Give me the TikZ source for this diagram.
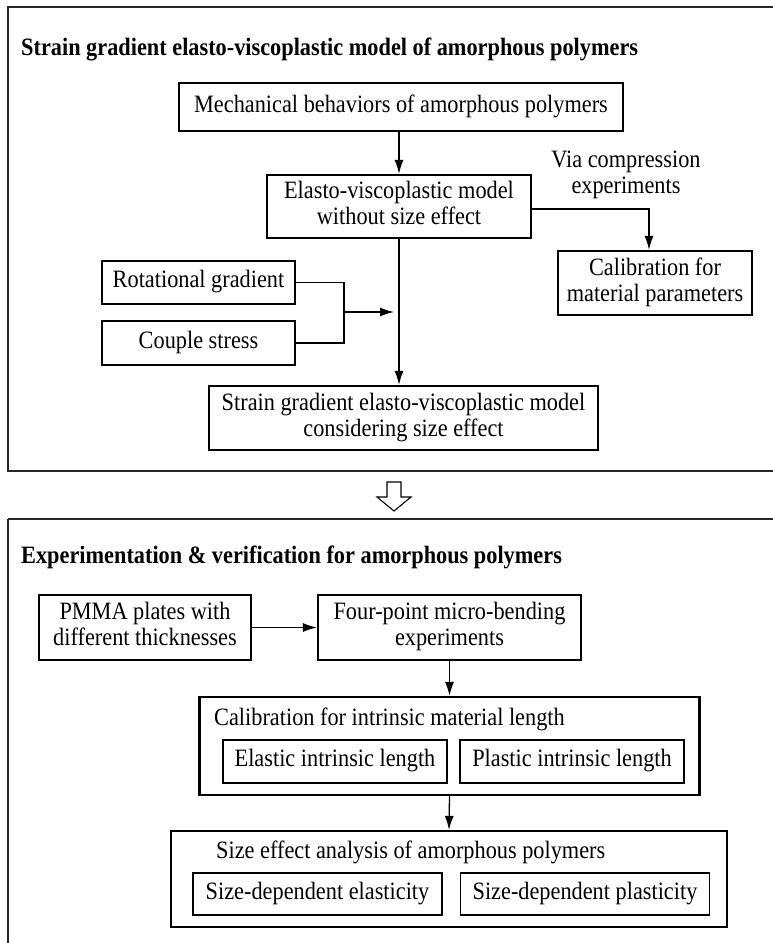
\documentclass[tikz,border=0pt]{standalone}
\usepackage{fontspec}
\usepackage{graphicx}
\setmainfont{Liberation Serif}
\usetikzlibrary{arrows.meta}
\newcommand{\vtxt}[1]{\scalebox{1}[1.12]{\begin{tabular}{@{}c@{}}#1\end{tabular}}}
\begin{document}
\begin{tikzpicture}[x=1pt,y=-1pt,
  every node/.style={font=\fontsize{22.3}{23.2}\selectfont},
  box/.style={draw=black,line width=2.2pt,align=center,inner sep=0pt},
  thinbox/.style={draw=black,line width=1.1pt,align=center,inner sep=0pt},
  frame/.style={draw=black!85,line width=1.5pt},
  ttl/.style={anchor=west,inner sep=0pt,font=\fontsize{22.3}{23.2}\selectfont\bfseries},
  sub/.style={anchor=west,inner sep=0pt},
  arr/.style={draw=black,line width=1.3pt,-{Latex[length=14pt,width=9pt]}},
  ln/.style={draw=black,line width=1.3pt}]
\useasboundingbox (0,0) rectangle (772,943);
\fill[white] (0,0) rectangle (772,943);
% frames
\draw[frame] (8,7) rectangle (790,471);
\draw[frame] (8,519) -- (790,519);
\draw[frame] (8,519) -- (8,960);
% top section
\node[ttl] (t1) at (21,50) {\vtxt{Strain gradient elasto-viscoplastic model of amorphous polymers}};
\node[box,minimum width=444pt,minimum height=48pt] (mech) at (401,107) {\vtxt{Mechanical behaviors of amorphous polymers}};
\node[box,minimum width=264pt,minimum height=63pt] (elasto) at (399,206.5) {\vtxt{Elasto-viscoplastic model\\without size effect}};
\node[inner sep=0pt] (via) at (626,175) {\vtxt{Via compression\\experiments}};
\node[box,minimum width=194pt,minimum height=64pt] (calib) at (655,283) {\vtxt{Calibration for\\material parameters}};
\node[box,minimum width=193pt,minimum height=43pt] (rot) at (198.5,282.5) {\vtxt{Rotational gradient}};
\node[box,minimum width=193pt,minimum height=44pt] (couple) at (198.5,343) {\vtxt{Couple stress}};
\node[box,minimum width=389pt,minimum height=64pt] (strain) at (403.5,418) {\vtxt{Strain gradient elasto-viscoplastic model\\considering size effect}};
\coordinate (j) at (344,312);
\coordinate (jt) at (394,312);
\coordinate (cr) at (649,209);
\draw[arr] (mech.south -| elasto.north) -- (elasto.north);
\draw[arr] (elasto.east |- cr) -- (cr) -- (cr |- calib.north);
\draw[arr] (elasto.south) -- (elasto.south |- strain.north);
\draw[ln] (rot.east) -| (j |- couple.east) -- (couple.east);
\draw[arr] (j) -- (jt);
% hollow arrow
\draw[line width=1.1pt,fill=white] (387,482) -- (401,482) -- (401,497) -- (411,497) -- (394,511) -- (377,497) -- (387,497) -- cycle;
% bottom section
\node[ttl] (t2) at (21,558) {\vtxt{Experimentation \& verification for amorphous polymers}};
\node[box,minimum width=212pt,minimum height=65pt] (pmma) at (145,627.5) {\vtxt{PMMA plates with\\different thicknesses}};
\node[box,minimum width=263pt,minimum height=65pt] (four) at (449.5,627.5) {\vtxt{Four-point micro-bending\\experiments}};
\node[box,minimum width=500pt,minimum height=98pt] (cal2) at (449.5,746) {};
\node[sub] (cal2t) at (214,720) {\vtxt{Calibration for intrinsic material length}};
\node[thinbox,minimum width=224pt,minimum height=43pt] (ela) at (335,761.5) {\vtxt{Elastic intrinsic length}};
\node[thinbox,minimum width=224pt,minimum height=43pt] (pla) at (572,761.5) {\vtxt{Plastic intrinsic length}};
\node[box,minimum width=556pt,minimum height=96pt] (size) at (449,879) {};
\node[sub] (sizet) at (216,853) {\vtxt{Size effect analysis of amorphous polymers}};
\node[thinbox,minimum width=249pt,minimum height=42pt] (sde) at (317.5,894) {\vtxt{Size-dependent elasticity}};
\node[thinbox,minimum width=249pt,minimum height=42pt] (sdp) at (585,894) {\vtxt{Size-dependent plasticity}};
\draw[arr] (pmma.east) -- (four.west);
\draw[arr] (four.south) -- (cal2.north);
\draw[arr] (cal2.south) -- (size.north);
\end{tikzpicture}
\end{document}
